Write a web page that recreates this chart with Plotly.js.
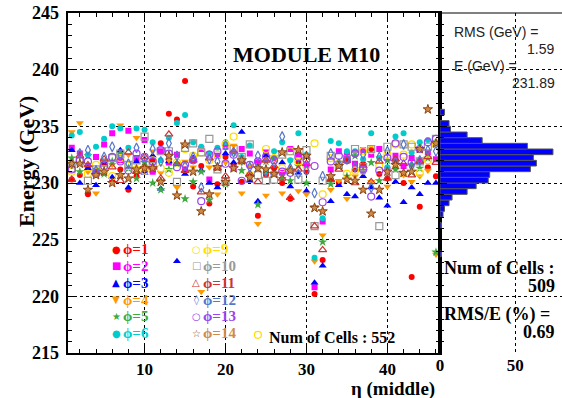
<!DOCTYPE html>
<html><head><meta charset="utf-8">
<script src="https://cdn.plot.ly/plotly-3.0.1.min.js"></script>
<style>html,body{margin:0;padding:0;background:#fff}#chart{width:562px;height:398px}</style>
</head><body><div id="chart"></div>
<script>
// eta (middle) bin index
const eta = [1,2,3,4,5,6,7,8,9,10,11,12,13,14,15,16,17,18,19,20,21,22,23,24,25,26,27,28,29,30,31,32,33,34,35,36,37,38,39,40,41,42,43,44,45,46];

// Energy (GeV) per phi row
const phi1  = [230.3,230.7,229.0,231.0,231.7,230.2,231.2,229.4,230.6,231.5, 232.0,233.5,236.1,235.6,239.0,229.7,231.5,228.2,229.9,232.3, 231.6,230.1,230.6,227.1,230.7,231.3,230.0,228.6,231.8,231.0, 220.2,223.2,230.3,230.0,232.0,231.2,231.7,233.0,230.8,230.4, 231.9,230.0,221.7,227.9,231.4,230.6];
const phi2  = [233.1,232.6,231.5,232.3,233.4,234.4,232.0,234.6,232.2,233.8, 231.0,232.8,231.8,232.5,231.2,232.0,233.0,230.3,232.4,233.2, 231.3,233.0,232.6,231.8,232.7,232.2,230.9,233.0,232.5,231.6, 220.8,226.6,231.2,232.8,232.5,231.7,232.9,232.5,233.0,231.2, 232.4,231.5,232.2,231.9,232.7,232.1];
const phi3  = [232.9,230.0,231.3,229.8,231.8,230.5,232.9,229.6,231.9,230.9, 232.4,229.5,231.9,223.1,230.8,232.2,231.1,230.0,229.6,232.6, 231.8,234.5,230.2,228.4,232.4,230.9,231.8,229.7,230.9,229.3, 221.2,222.7,228.4,229.8,229.0,228.8,230.6,229.6,228.7,228.0, 230.1,228.3,229.6,229.0,230.0,230.0];
const phi4  = [234.5,235.3,231.0,229.1,232.0,231.6,235.1,232.5,234.0,231.2, 232.8,230.9,232.0,229.6,231.9,231.4,220.4,231.4,229.0,231.8, 233.3,229.1,231.5,226.4,228.9,230.9,229.1,232.0,229.3,229.0, 223.1,225.4,229.4,230.2,228.6,230.6,231.0,230.1,232.2,229.7, 231.3,230.7,230.1,230.6,231.1,223.7];
const phi5  = [232.2,231.0,232.4,231.2,230.8,231.9,232.6,231.3,230.4,231.8, 230.0,229.4,231.2,231.7,228.6,230.1,231.0,228.5,231.4,229.9, 232.7,231.1,230.5,228.1,231.9,232.3,230.4,230.2,231.5,230.0, 227.9,224.8,229.9,231.5,230.6,232.4,231.1,231.8,230.2,232.0, 231.2,230.9,231.6,231.3,232.2,223.9];
const phi6  = [234.2,234.5,232.5,233.2,233.9,235.0,234.8,233.1,234.8,234.7, 233.6,232.0,234.0,235.3,236.0,233.6,233.2,232.6,233.1,233.6, 235.1,232.3,233.3,231.5,231.0,232.8,233.6,232.0,234.4,232.5, 223.4,226.9,233.7,233.5,232.8,232.8,232.1,234.4,232.2,231.4, 234.1,234.4,232.7,233.6,233.8,233.6];
const phi9  = [231.0,232.0,230.8,231.6,231.2,230.6,232.2,231.5,231.2,231.1, 232.0,231.3,230.9,231.8,233.0,232.4,232.7,232.0,232.5,233.4, 234.1,231.9,230.7,216.6,233.0,232.2,231.3,232.8,231.9,231.5, 233.5,229.0,232.2,231.7,230.8,231.1,232.8,232.9,231.5,232.5, 233.4,232.5,233.4,230.9,232.0,233.4];
const phi10 = [231.3,231.9,230.2,231.2,231.8,232.2,232.6,231.6,232.0,234.1, 231.5,232.8,232.8,230.1,233.1,233.5,232.7,233.9,231.2,230.1, 233.0,232.3,233.4,230.7,230.2,230.3,232.5,232.8,230.3,232.9, 226.2,230.2,232.4,231.6,232.1,233.0,231.4,233.0,226.2,233.2, 230.7,233.4,233.2,231.9,233.2,233.9];
const phi11 = [230.3,232.4,231.6,230.9,232.1,231.4,230.2,232.7,231.0,232.3, 231.4,230.4,234.3,231.7,231.1,232.0,229.2,232.2,231.3,230.6, 232.8,231.9,230.8,230.1,232.0,231.5,230.4,228.7,231.2,231.7, 226.2,224.1,230.3,231.2,232.0,230.0,231.5,230.1,231.9,230.4, 232.1,231.7,230.7,231.9,232.3,231.8];
const phi12 = [231.7,232.6,232.9,231.1,232.3,233.2,232.5,231.7,233.1,232.0, 233.0,231.9,233.5,232.4,231.5,232.3,229.6,232.1,231.9,233.3, 232.7,232.0,231.4,232.4,231.0,231.8,234.1,231.3,230.8,231.1, 229.1,230.6,232.6,231.7,232.1,231.4,232.5,229.6,232.3,232.8, 231.8,233.4,231.5,232.0,232.9,232.8];
const phi13 = [231.2,232.0,231.9,230.8,231.5,232.3,231.9,231.1,232.6,232.3, 231.9,232.9,232.6,231.4,231.6,232.0,228.4,232.5,232.8,231.7, 232.5,230.2,231.6,231.9,232.3,232.0,231.0,230.9,232.3,232.1, 231.5,228.3,231.9,232.4,232.0,232.6,231.2,228.8,231.1,232.2, 233.5,232.3,231.8,233.0,233.6,233.9];
const phi14 = [231.7,231.7,229.4,230.7,231.0,230.0,230.7,230.4,231.2,231.3, 231.3,230.1,232.4,228.9,233.4,231.0,227.5,229.0,231.4,230.1, 231.3,232.0,230.5,231.3,231.2,230.8,232.7,231.1,232.9,232.4, 227.8,227.5,230.6,231.5,230.3,230.2,229.4,227.3,229.4,231.0, 231.6,230.9,231.0,233.0,236.5,233.5];

// projected energy distribution (0.5 GeV bins)
const binLow   = [223.5,226.0,227.0,227.5,228.0,228.5,229.0,229.5,230.0,230.5,231.0,231.5,232.0,232.5,233.0,233.5,234.0,234.5,235.0,236.0];
const binCount = [1,1,2,3,6,8,18,24,32,33,60,64,62,75,58,28,18,7,6,3];

const seriesLabels = ['ϕ=1','ϕ=2','ϕ=3','ϕ=4','ϕ=5','ϕ=6','ϕ=9','ϕ=10','ϕ=11','ϕ=12','ϕ=13','ϕ=14'];
const seriesData = [phi1,phi2,phi3,phi4,phi5,phi6,phi9,phi10,phi11,phi12,phi13,phi14];

// styles
const styles = [
  {symbol:'circle', color:'#ff0000', size:6, glyph:'●'},
  {symbol:'square', color:'#ff00ff', size:6, glyph:'■'},
  {symbol:'triangle-up', color:'#0000ff', size:7, glyph:'▲'},
  {symbol:'triangle-down', color:'#ff9900', size:7, glyph:'▼'},
  {symbol:'star', color:'#3caa3c', size:7, glyph:'★'},
  {symbol:'circle', color:'#00cccc', size:6, glyph:'●'},
  {symbol:'circle-open', color:'#ffdd00', size:7, glyph:'○'},
  {symbol:'square-open', color:'#999999', size:7, glyph:'□'},
  {symbol:'triangle-up-open', color:'#cc3333', size:7, glyph:'△'},
  {symbol:'diamond-tall-open', color:'#5577cc', size:7, glyph:'◊'},
  {symbol:'circle-open', color:'#9944ee', size:7, glyph:'○'},
  {symbol:'star', color:'#d08a48', size:7, glyph:'☆', line:'#8b4513'}
];

const W = 562, H = 398;
const px = x => x / W, py = y => 1 - y / H;
const X0 = 67.7, X1 = 440, Y0 = 13, Y1 = 353;
const serif = "'Liberation Serif', 'Times New Roman', serif";
const sans = "'Liberation Sans', Arial, sans-serif";

const traces = seriesData.map((vals, i) => {
  const s = styles[i];
  const open = s.symbol.indexOf('open') >= 0;
  return {
    type:'scatter', mode:'markers', x: eta, y: vals, xaxis:'x', yaxis:'y',
    name: seriesLabels[i], showlegend:false, cliponaxis:true,
    marker:{symbol:s.symbol, size:s.size, color:s.color,
      line:{color: s.line || s.color, width: open ? 1.2 : (s.line ? 1 : 0)}}
  };
});

traces.push({
  type:'bar', orientation:'h', xaxis:'x2', yaxis:'y2', showlegend:false,
  y: binLow.map(b => b + 0.25), x: binCount, width: 0.5,
  marker:{color:'#0000ff', line:{color:'#555555', width:1}}
});

const tickFont = {family: serif, size: 17, color:'#000', weight:'bold'};
const gridCommon = {showgrid:true, gridcolor:'#000', griddash:'dot', gridwidth:1, zeroline:false};

const annotations = [];
function ann(text, x, y, o) {
  annotations.push(Object.assign({text, x:px(x), y:py(y), xref:'paper', yref:'paper', showarrow:false,
    xanchor:'center', yanchor:'middle', font:{family:serif, size:16, color:'#000', weight:'bold'}}, o || {}));
}
ann('MODULE M10', 306, 55, {font:{family:serif, size:22, color:'#000', weight:'bold'}});
ann('Energy (GeV)', 26, 162, {textangle:-90, font:{family:serif, size:22, color:'#000', weight:'bold'}});
ann('η (middle)', 436, 389, {xanchor:'right', borderpad:0, font:{family:serif, size:19, color:'#000', weight:'bold'}});
ann('RMS (GeV) =', 452, 32, {xanchor:'left', font:{family:sans, size:14, color:'#222'}});
ann('1.59', 556, 49, {xanchor:'right', font:{family:sans, size:14, color:'#222'}});
ann('E (GeV) =', 452, 66, {xanchor:'left', font:{family:sans, size:14, color:'#222'}});
ann('231.89', 557, 83, {xanchor:'right', font:{family:sans, size:14, color:'#222'}});
ann('Num of Cells :', 557, 268, {xanchor:'right', font:{family:serif, size:18, color:'#000', weight:'bold'}});
ann('509', 557, 286, {xanchor:'right', font:{family:serif, size:18, color:'#000', weight:'bold'}});
ann('RMS/E (%) =', 442, 314, {xanchor:'left', font:{family:serif, size:18, color:'#000', weight:'bold'}});
ann('0.69', 557, 332, {xanchor:'right', font:{family:serif, size:18, color:'#000', weight:'bold'}});
ann('Num of Cells : 552', 267, 337, {xanchor:'left', font:{family:serif, size:16, color:'#000', weight:'bold'}});

// legend (two columns)
const legCols = [{mx:116, tx:121}, {mx:196, tx:201}];
const legRow0 = 249, legDy = 16.87;
seriesLabels.forEach((lab, i) => {
  const col = legCols[i < 6 ? 0 : 1];
  const row = i % 6;
  const yy = legRow0 + row * legDy;
  const s = styles[i];
  ann(s.glyph, col.mx, yy, {font:{family:'DejaVu Sans, sans-serif', size:10, color: s.line || s.color}});
  ann(lab, col.tx, yy, {xanchor:'left', font:{family:serif, size:15, color:s.color, weight:'bold'}});
});

const layout = {
  width: W, height: H,
  margin:{l:0, r:0, t:0, b:0, pad:0},
  paper_bgcolor:'#fff', plot_bgcolor:'rgba(0,0,0,0)',
  showlegend:false, hovermode:false, bargap:0,
  xaxis: Object.assign({domain:[px(X0), px(X1)], range:[0.5, 46.5], anchor:'y',
    tick0:0, dtick:10, ticks:'inside', ticklen:7, tickwidth:1, tickcolor:'#000',
    minor:{dtick:2, tick0:0, ticks:'inside', ticklen:4, tickcolor:'#000', showgrid:false},
    showline:true, linewidth:2, linecolor:'#000', mirror:'allticks',
    tickfont:tickFont, ticklabelstandoff:0}, gridCommon),
  yaxis: Object.assign({domain:[py(Y1), py(Y0)], range:[215, 245], anchor:'x',
    tick0:0, dtick:5, ticks:'inside', ticklen:7, tickwidth:1, tickcolor:'#000',
    minor:{dtick:1, tick0:0, ticks:'inside', ticklen:4, tickcolor:'#000', showgrid:false},
    showline:true, linewidth:2, linecolor:'#000', mirror:'allticks',
    tickfont:{family: serif, size: 18, color:'#000', weight:'bold'}, ticklabelstandoff:3}, gridCommon),
  xaxis2: Object.assign({domain:[px(X1), 1], range:[0, 81], anchor:'y2',
    tickvals:[0, 50], ticks:'', showline:false,
    tickfont:tickFont, ticklabelstandoff:0}, gridCommon),
  yaxis2: Object.assign({domain:[py(Y1), py(Y0)], range:[215, 245], anchor:'x2',
    tick0:0, dtick:5, ticks:'inside', ticklen:7, tickcolor:'#000', showticklabels:false,
    minor:{dtick:1, tick0:0, ticks:'inside', ticklen:4, tickcolor:'#000', showgrid:false},
    showline:true, linewidth:2, linecolor:'#000'}, gridCommon),
  shapes:[
    {type:'line', xref:'paper', yref:'paper', x0:px(X1), x1:1, y0:py(Y0), y1:py(Y0), line:{color:'#000', width:1}}
  ],
  annotations
};

Plotly.newPlot('chart', traces, layout, {staticPlot:true, displayModeBar:false});
</script></body></html>
